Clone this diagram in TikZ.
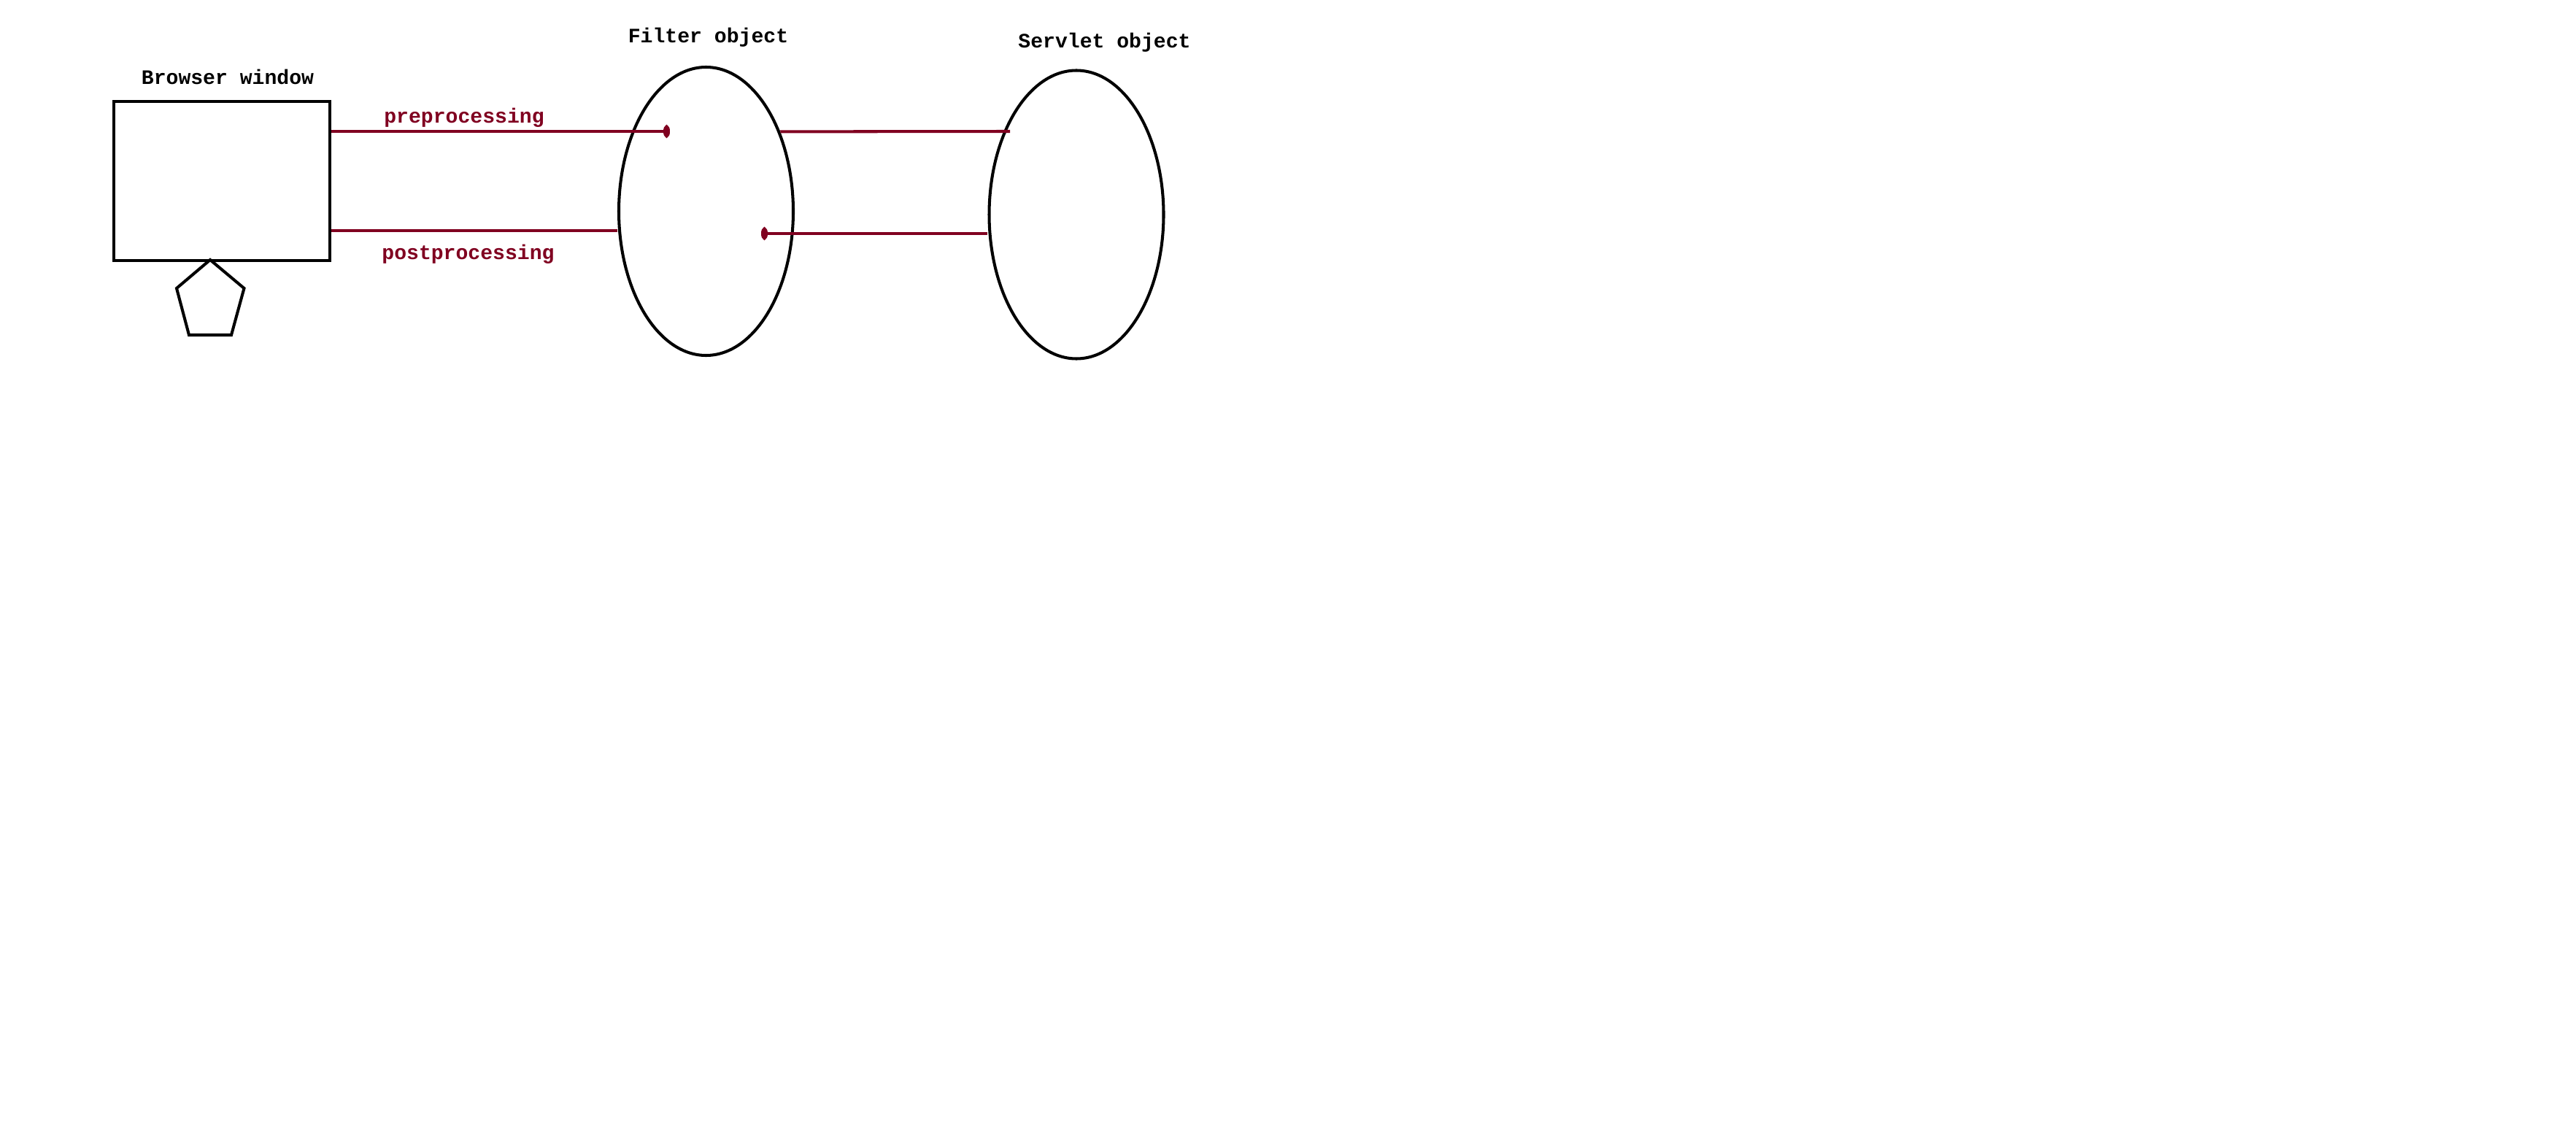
\documentclass[tikz,border=0pt]{standalone}
\usepackage{fontspec}
\setmonofont{Liberation Mono}
\usepackage{tikz}
\usetikzlibrary{
  arrows.meta,
  positioning,
  shapes.geometric,
}
\definecolor{linkred}{HTML}{800020}

\begin{document}
\begin{tikzpicture}[
    lbl/.style={font=\fontsize{16}{19}\selectfont\ttfamily\bfseries, anchor=base},
    obj/.style={draw, ellipse, line width=2.3pt, inner sep=0pt,
      minimum width=4.78cm, minimum height=7.9cm},
    link/.style={linkred, line width=2.3pt},
    >={Ellipse[length=0.18cm, width=0.34cm]},
  ]
  \useasboundingbox (0,0) rectangle (70.6,-31.24);

  % Browser window
  \node[draw, line width=2.5pt, minimum width=5.92cm, minimum height=4.36cm] (browser) at (6.08,-4.96) {};
  \node[lbl] (browserlbl) at (6.24,-2.32) {Browser window};
  \draw[line width=2.3pt] (5.76,-7.12) -- (6.69,-7.9) -- (6.34,-9.18)
    -- (5.18,-9.18) -- (4.84,-7.9) -- cycle;

  % Filter object
  \node[obj] (filter) at (19.35,-5.79) {};
  \node[lbl] (filterlbl) at (19.41,-1.17) {Filter object};

  % Servlet object
  \node[obj] (servlet) at (29.5,-5.88) {};
  \node[lbl] (servletlbl) at (30.27,-1.32) {Servlet object};

  % Request and response lines
  \coordinate (preEnd) at (18.36,-3.6);
  \coordinate (postY) at (0,-6.32);
  \coordinate (fwdEnd) at (27.68,-3.6);
  \coordinate (backStart) at (20.86,-6.4);
  \draw[link, ->] (browser.east |- preEnd) -- (preEnd);
  \draw[link] (browser.east |- postY) -- (filter.west |- postY);
  \draw[link] (filter.47.7) -- (fwdEnd);
  \draw[link, <-] (backStart) -- (servlet.west |- backStart);

  \node[lbl, text=linkred] (prelbl) at (12.72,-3.38) {preprocessing};
  \node[lbl, text=linkred] (postlbl) at (12.83,-7.1) {postprocessing};
\end{tikzpicture}
\end{document}
